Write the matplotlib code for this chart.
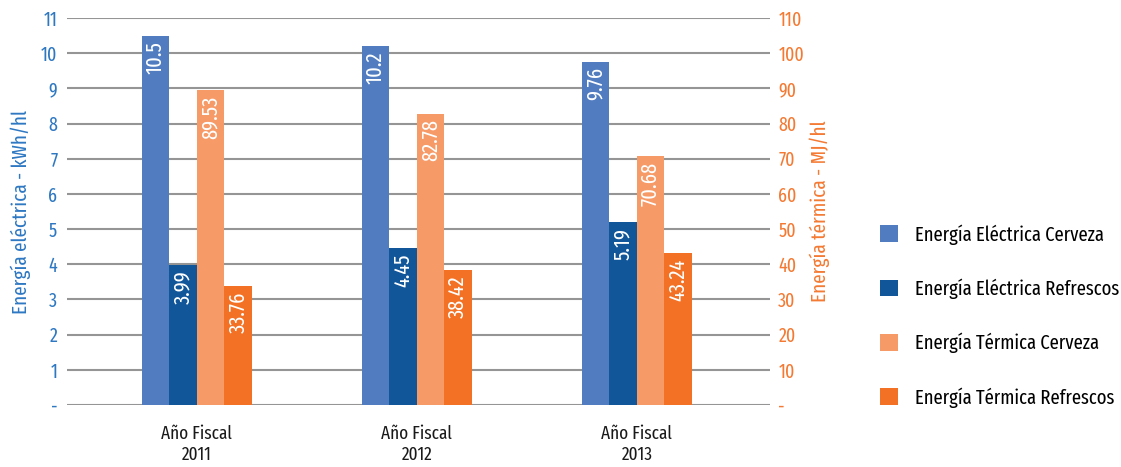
import numpy as np
import matplotlib
matplotlib.use("Agg")
import matplotlib.pyplot as plt
from matplotlib.patches import Patch

years = ["Año Fiscal\n2011", "Año Fiscal\n2012", "Año Fiscal\n2013"]
elec_cerveza = [10.5, 10.2, 9.76]
elec_refrescos = [3.99, 4.45, 5.19]
term_cerveza = [89.53, 82.78, 70.68]
term_refrescos = [33.76, 38.42, 43.24]

series_names = ["Energía Eléctrica Cerveza", "Energía Eléctrica Refrescos",
                "Energía Térmica Cerveza", "Energía Térmica Refrescos"]
colors = ["#517DC0", "#12569A", "#F69A67", "#F37124"]
blue_txt = "#2E78C2"
orange_txt = "#F47A33"
grid_c = "#959595"

plt.rcParams["font.family"] = ["Fira Sans Extra Condensed", "DejaVu Sans"]

fig = plt.figure(figsize=(11.21, 4.67), dpi=100)
ax = fig.add_axes([67 / 1121, 1 - 405 / 467, 703 / 1121, 387 / 467])
ax2 = ax.twinx()

x = np.arange(len(years))
w = 0.125
offsets = [-1.5 * w, -0.5 * w, 0.5 * w, 1.5 * w]

# electric series on the left axis, thermal ones on the right axis
for i, (vals, axis, fmt) in enumerate([
        (elec_cerveza, ax, "{:g}"),
        (elec_refrescos, ax, "{:.2f}"),
        (term_cerveza, ax2, "{:.2f}"),
        (term_refrescos, ax2, "{:.2f}")]):
    bars = axis.bar(x + offsets[i], vals, w, color=colors[i], zorder=3)
    for b, v in zip(bars, vals):
        axis.annotate(fmt.format(v), (b.get_x() + b.get_width() / 2, v),
                      xytext=(0, -4), textcoords="offset points",
                      rotation=90, ha="center", va="top", color="white",
                      fontsize=16, zorder=4)

ax.set_xlim(-0.59, 2.605)
ax.set_ylim(0, 11)
ax2.set_ylim(0, 110)
ax.set_yticks(range(0, 12))
ax.set_yticklabels(["-"] + [str(i) for i in range(1, 12)])
ax2.set_yticks(range(0, 111, 10))
ax2.set_yticklabels(["-"] + [str(i) for i in range(10, 111, 10)])

ax.grid(axis="y", color=grid_c, linewidth=1.5, zorder=0)
ax.set_axisbelow(True)
for a in (ax, ax2):
    for s in a.spines.values():
        s.set_visible(False)
ax2.set_zorder(ax.get_zorder() + 1)
ax.patch.set_visible(False)

ax.tick_params(axis="y", length=0, pad=7, labelsize=14, labelcolor=blue_txt)
ax2.tick_params(axis="y", length=0, pad=6, labelsize=14, labelcolor=orange_txt)
ax.set_xticks(x)
ax.set_xticklabels(years, fontsize=13.5, color="#1A1A1A", linespacing=1.25)
ax.tick_params(axis="x", length=0, pad=14)

ax.set_ylabel("Energía eléctrica - kWh/hl", fontsize=15, color=blue_txt, labelpad=7)
ax2.set_ylabel("Energía térmica - MJ/hl", fontsize=15, color=orange_txt, labelpad=4)

handles = [Patch(facecolor=c) for c in colors]
fig.legend(handles, series_names, loc="center left",
           bbox_to_anchor=(862 / 1121, 1 - 316 / 467), frameon=False,
           fontsize=14.5, handlelength=0.9, handleheight=0.9,
           labelspacing=1.68, handletextpad=0.85)

fig.savefig("out.png", dpi=100)
